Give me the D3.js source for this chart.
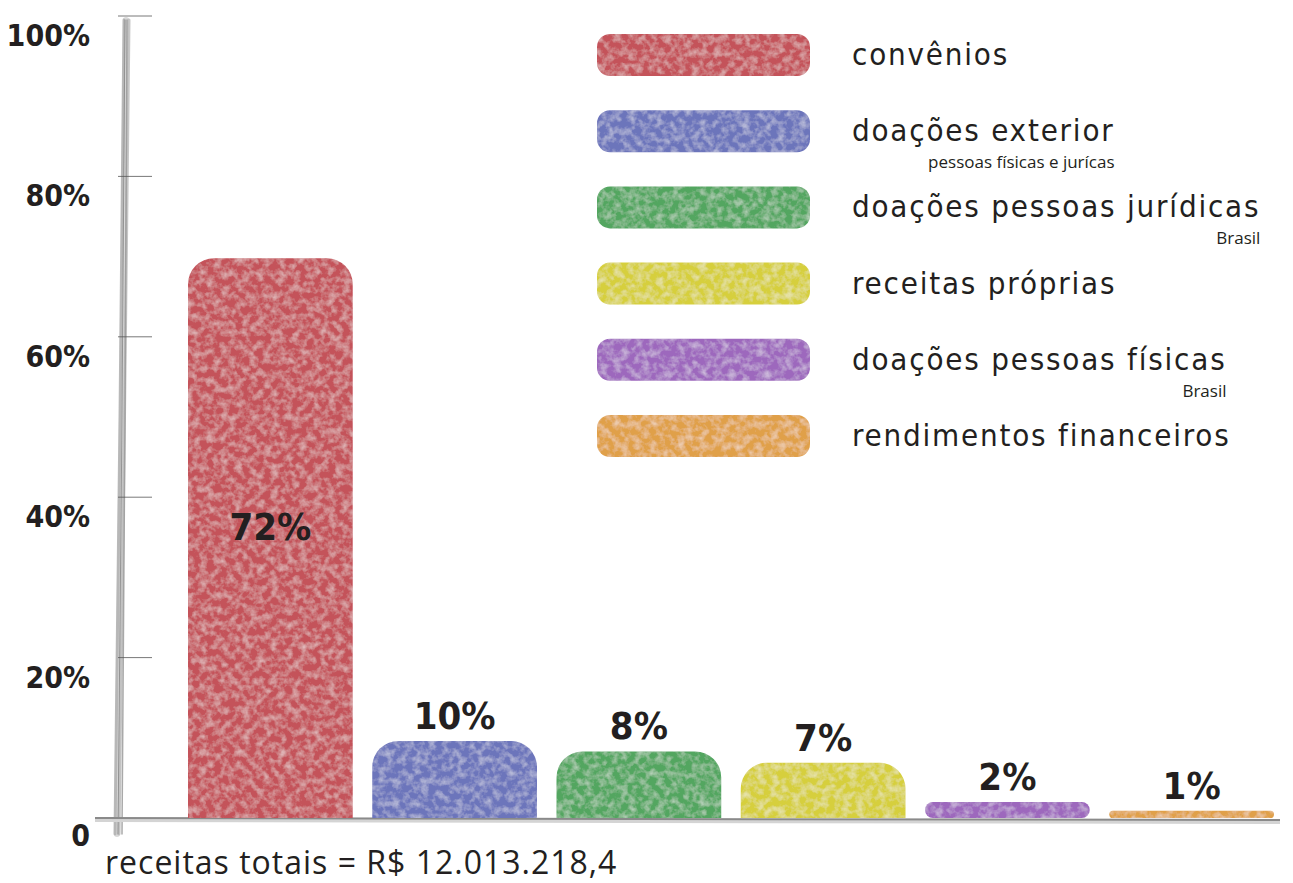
<!DOCTYPE html>
<html>
<head>
<meta charset="utf-8">
<script src="https://cdn.jsdelivr.net/npm/d3@7"></script>
<style>
  body { margin: 0; background: #fff; }
  .techno { font-family: 'DejaVu Sans Condensed', 'DejaVu Sans', sans-serif; fill: #231f20; }
</style>
</head>
<body>
<div id="viz"></div>
<script>
const width = 1293;
const height = 883;

// data
const categories = ['convênios', 'doações exterior', 'doações pessoas jurídicas', 'receitas próprias', 'doações pessoas físicas', 'rendimentos financeiros'];
const subLabels = ['', 'pessoas físicas e jurícas', 'Brasil', '', 'Brasil', ''];
const barLabels = ['72%', '10%', '8%', '7%', '2%', '1%'];
const barHeights = [69.8, 9.6, 8.3, 6.9, 2.0, 0.9]; // bar height as drawn, % of axis
const colors = ['#c4525a', '#6c74bb', '#52a660', '#d6cf3c', '#9d68bd', '#e0a049'];
const yTicks = [0, 20, 40, 60, 80, 100];
const totalText = 'receitas totais = R$ 12.013.218,4';

const svg = d3.select('#viz')
  .append('svg')
    .attr('width', width)
    .attr('height', height);

// paper-like texture for the colour blocks
const defs = svg.append('defs');
const filter = defs.append('filter')
  .attr('id', 'tex')
  .attr('x', 0).attr('y', 0).attr('width', '100%').attr('height', '100%');
filter.append('feTurbulence')
  .attr('type', 'fractalNoise').attr('baseFrequency', 0.14).attr('numOctaves', 3).attr('seed', 7)
  .attr('result', 'noise');
filter.append('feColorMatrix')
  .attr('in', 'noise').attr('type', 'matrix')
  .attr('values', '0 0 0 0 1  0 0 0 0 1  0 0 0 0 1  0.8 0 0 0 -0.32')
  .attr('result', 'light');
filter.append('feComposite')
  .attr('in', 'light').attr('in2', 'SourceGraphic').attr('operator', 'in')
  .attr('result', 'lightIn');
const merge = filter.append('feMerge');
merge.append('feMergeNode').attr('in', 'SourceGraphic');
merge.append('feMergeNode').attr('in', 'lightIn');

const yScale = d3.scaleLinear()
  .domain([0, 100])
  .range([818, 16]);

const xScale = d3.scaleBand()
  .domain(categories)
  .range([188, 1274])
  .paddingInner(0.106)
  .paddingOuter(0);

// sketchy y axis
const axisG = svg.append('g');
const strokes = [
  {dx0: 0, dx1: -4, w: 6, c: '#d2d2d2'},
  {dx0: 3, dx1: -2, w: 3, c: '#bdbdbd'},
  {dx0: -2, dx1: -6, w: 3, c: '#b0b0b0'},
  {dx0: 1, dx1: 1, w: 1.5, c: '#9a9a9a'},
  {dx0: -1, dx1: -3, w: 1, c: '#888'}
];
strokes.forEach(s => {
  axisG.append('path')
    .attr('d', d3.line()([[126 + s.dx0, yScale(100) + 4], [124 + (s.dx0 + s.dx1) / 2, yScale(50)], [121 + s.dx1, yScale(0) + 16]]))
    .attr('fill', 'none')
    .attr('stroke', s.c)
    .attr('stroke-width', s.w)
    .attr('stroke-linecap', 'round')
    .attr('opacity', 0.85);
});

axisG.selectAll('line.tick')
  .data(yTicks.filter(d => d > 0))
  .join('line')
    .attr('class', 'tick')
    .attr('x1', 118)
    .attr('x2', 152)
    .attr('y1', d => yScale(d))
    .attr('y2', d => yScale(d))
    .attr('stroke', '#555')
    .attr('stroke-width', 0.8);

axisG.selectAll('text')
  .data(yTicks)
  .join('text')
    .attr('class', 'techno')
    .attr('x', 90)
    .attr('y', d => yScale(d) + (d === 0 ? 28 : 30))
    .attr('text-anchor', 'end')
    .attr('font-size', 30)
    .attr('font-weight', 'bold')
    .text(d => d === 0 ? '0' : d + '%');

// baseline
svg.append('path')
  .attr('d', d3.line()([[95, yScale(0) + 2], [1280, yScale(0) + 4]]))
  .attr('stroke', '#d4d4d4')
  .attr('stroke-width', 4)
  .attr('fill', 'none');
svg.append('path')
  .attr('d', d3.line()([[95, yScale(0)], [1280, yScale(0) + 2]]))
  .attr('stroke', '#8a8a8a')
  .attr('stroke-width', 2)
  .attr('fill', 'none');

// bar with rounded top (small bars rounded all round)
const barPath = (x, y, w, h) => {
  const r = Math.min(26, h / 2, w / 2);
  const rb = h < 30 ? r : 0;
  const p = d3.path();
  p.moveTo(x, y + h - rb);
  p.lineTo(x, y + r);
  p.arcTo(x, y, x + r, y, r);
  p.lineTo(x + w - r, y);
  p.arcTo(x + w, y, x + w, y + r, r);
  p.lineTo(x + w, y + h - rb);
  if (rb > 0) {
    p.arcTo(x + w, y + h, x + w - rb, y + h, rb);
    p.lineTo(x + rb, y + h);
    p.arcTo(x, y + h, x, y + h - rb, rb);
  } else {
    p.lineTo(x + w, y + h);
    p.lineTo(x, y + h);
  }
  p.closePath();
  return p.toString();
};

svg.append('g')
  .selectAll('path')
  .data(categories)
  .join('path')
    .attr('d', (d, i) => barPath(xScale(d), yScale(barHeights[i]), xScale.bandwidth(), yScale(0) - yScale(barHeights[i])))
    .attr('fill', (d, i) => colors[i])
    .attr('filter', 'url(#tex)');

// bar labels
svg.append('g')
  .selectAll('text')
  .data(categories)
  .join('text')
    .attr('class', 'techno')
    .attr('x', d => xScale(d) + xScale.bandwidth() / 2)
    .attr('y', (d, i) => i === 0
      ? (yScale(barHeights[i]) + yScale(0)) / 2 + 2
      : yScale(barHeights[i]) - 12)
    .attr('text-anchor', 'middle')
    .attr('font-size', 38)
    .attr('font-weight', 'bold')
    .text((d, i) => barLabels[i]);

// legend
const legend = svg.append('g');
const legendY = i => 34 + i * 76.2;

legend.selectAll('rect')
  .data(categories)
  .join('rect')
    .attr('x', 597)
    .attr('y', (d, i) => legendY(i))
    .attr('width', 213)
    .attr('height', 42)
    .attr('rx', 13)
    .attr('fill', (d, i) => colors[i])
    .attr('filter', 'url(#tex)');

const mainText = legend.selectAll('text.main')
  .data(categories)
  .join('text')
    .attr('class', 'techno main')
    .attr('x', 852)
    .attr('y', (d, i) => legendY(i) + 31)
    .attr('font-size', 31)
    .attr('letter-spacing', 1.8)
    .text(d => d);

mainText.each(function(d, i) {
  if (!subLabels[i]) return;
  const end = 852 + this.getComputedTextLength();
  legend.append('text')
    .attr('x', end)
    .attr('y', legendY(i) + 58)
    .attr('text-anchor', 'end')
    .attr('font-family', "'Open Sans', 'Noto Sans', sans-serif")
    .attr('font-size', 17)
    .attr('fill', '#231f20')
    .text(subLabels[i]);
});

// total
svg.append('text')
  .attr('x', 105)
  .attr('y', 874)
  .attr('font-family', "'Open Sans', 'Noto Sans', sans-serif")
  .attr('font-size', 32)
  .attr('letter-spacing', 1)
  .attr('fill', '#231f20')
  .text(totalText);
</script>
</body>
</html>
